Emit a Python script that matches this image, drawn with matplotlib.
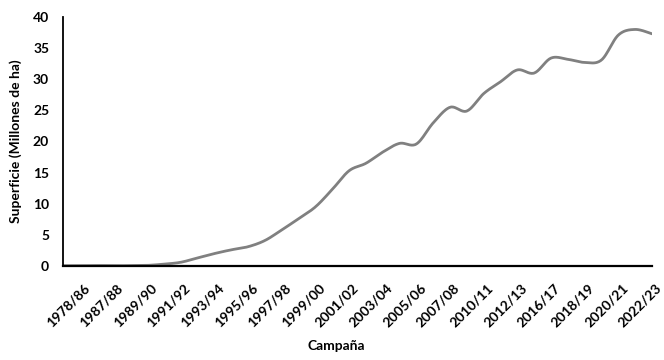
import numpy as np
import matplotlib
matplotlib.use("Agg")
import matplotlib.pyplot as plt
from matplotlib.transforms import ScaledTranslation

plt.rcParams['font.family'] = ['Lato', 'DejaVu Sans']

campaigns = ["1978/86", "1986/87", "1987/88", "1988/89", "1989/90", "1990/91",
             "1991/92", "1992/93", "1993/94", "1994/95", "1995/96", "1996/97",
             "1997/98", "1998/99", "1999/00", "2000/01", "2001/02", "2002/03",
             "2003/04", "2004/05", "2005/06", "2006/07", "2007/08", "2008/09",
             "2010/11", "2011/12", "2012/13", "2014/15", "2016/17", "2017/18",
             "2018/19", "2019/20", "2020/21", "2021/22", "2022/23", "2023/24"]
superficie = [0.05, 0.05, 0.08, 0.05, 0.07, 0.1,
              0.3, 0.6, 1.3, 2.0, 2.6, 3.1,
              4.1, 5.8, 7.6, 9.5, 12.3, 15.3,
              16.5, 18.3, 19.7, 19.6, 23.0, 25.5,
              24.9, 27.7, 29.6, 31.5, 31.0, 33.4,
              33.2, 32.7, 33.1, 37.1, 38.0, 37.3]
shown_labels = campaigns[::2]


def smooth(xs, ys, n=20):
    # Excel-like smoothed line (Catmull-Rom Bezier with 1/6 control offsets)
    P = np.column_stack([xs, ys]).astype(float)
    out = []
    m = len(P)
    for i in range(m - 1):
        p0 = P[i - 1] if i > 0 else P[i]
        p1 = P[i]
        p2 = P[i + 1]
        p3 = P[i + 2] if i + 2 < m else P[i + 1]
        c1 = p1 + (p2 - p0) / 6.0
        c2 = p2 - (p3 - p1) / 6.0
        t = np.linspace(0, 1, n, endpoint=(i == m - 2))[:, None]
        seg = ((1 - t) ** 3) * p1 + 3 * ((1 - t) ** 2) * t * c1 + 3 * (1 - t) * t ** 2 * c2 + t ** 3 * p2
        out.append(seg)
    out = np.vstack(out)
    return out[:, 0], out[:, 1]


fig = plt.figure(figsize=(6.64, 3.6), dpi=100)
ax = fig.add_axes([63 / 664, 94 / 360, 589 / 664, 249 / 360])

x = np.arange(len(campaigns))
sx, sy = smooth(x, superficie)
ax.plot(sx, sy, color='#808080', linewidth=2.0, solid_capstyle='round')

ax.set_xlim(0, len(campaigns) - 1)
ax.set_ylim(0, 40)
ax.set_yticks(np.arange(0, 41, 5))
ax.set_xticks(x[::2])
ax.set_xticklabels([''] * len(shown_labels))
for lab in ax.get_yticklabels():
    lab.set_fontsize(10)
    lab.set_fontweight('bold')

# rotated category labels, placed like Excel's (top-right end offset from tick)
lab_trans = ax.get_xaxis_transform() + ScaledTranslation(0.20, -0.155, fig.dpi_scale_trans)
for xi, lab in zip(x[::2], shown_labels):
    ax.text(xi, 0, lab, transform=lab_trans, rotation=45, ha='right', va='top',
            rotation_mode='anchor', fontsize=10, fontweight='bold', clip_on=False)

ax.tick_params(axis='both', length=0)
ax.tick_params(axis='y', pad=10)

for s in ['top', 'right']:
    ax.spines[s].set_visible(False)
ax.spines['left'].set_linewidth(1.3)
ax.spines['bottom'].set_linewidth(1.6)
ax.spines['left'].set_color('black')
ax.spines['bottom'].set_color('black')

ax.set_ylabel('Superficie (Millones de ha)', fontsize=10, fontweight='bold', labelpad=8)
fig.text(336 / 664, 1 - 346 / 360, 'Campaña', ha='center', va='center',
         fontsize=10, fontweight='bold')

fig.savefig('out.png', dpi=100)
